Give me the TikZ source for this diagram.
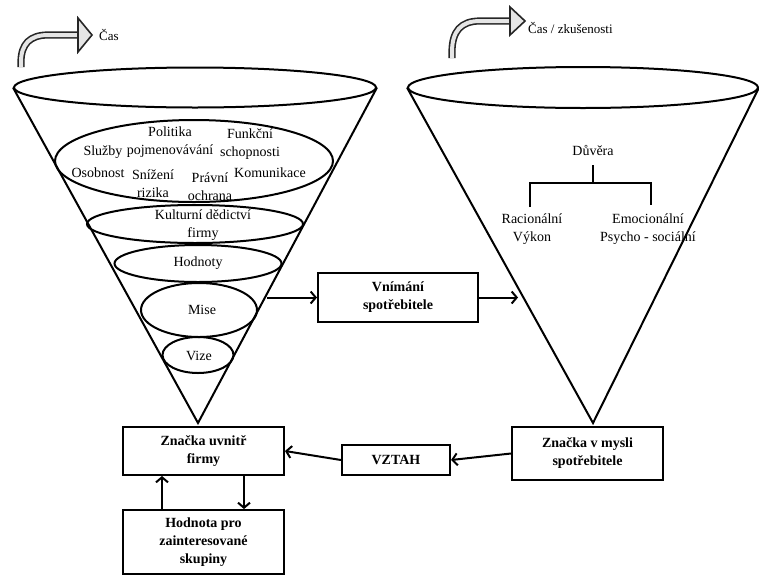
\documentclass[tikz,border=0pt]{standalone}
\usepackage{fontspec}
\setmainfont{Liberation Serif}
\usetikzlibrary{shapes.geometric,arrows.meta,calc}

\tikzset{
  txt/.style={font=\fontsize{14}{18}\selectfont, align=center, inner sep=0pt},
  lbl/.style={font=\fontsize{13}{16}\selectfont, inner sep=0pt, anchor=west},
  layer/.style={ellipse, draw, line width=2pt, inner sep=0pt, font=\fontsize{14}{18}\selectfont},
  cone/.style={line width=2pt, line join=miter},
  box/.style={draw, line width=2pt, align=center, inner sep=0pt,
              font=\bfseries\fontsize{14}{18}\selectfont},
  link/.style={line width=2pt, -{Straight Barb[length=5pt,width=12pt,line width=2pt]}},
  tree/.style={line width=2.2pt},
  bentshaft/.style={line width=1.6pt, draw=black!85, double=gray!20, double distance=4pt},
  benthead/.style={line width=1.6pt, draw=black!85, fill=gray!20, line join=miter},
}

\begin{document}
\begin{tikzpicture}[x=1pt, y=-1pt]
\useasboundingbox (0,0) rectangle (759,576);

% --- time arrows ---
\draw[bentshaft] (21,67) -- (21,62) .. controls (21,44) and (30,35) .. (48,35) -- (80,35);
\filldraw[benthead] (78,18) -- (92,35) -- (78,52) -- cycle;
\node[lbl] (cas) at (99,35) {Čas};

\draw[bentshaft] (452,58) -- (452,52) .. controls (452,31) and (461,21) .. (480,21) -- (512,21);
\filldraw[benthead] (510,7) -- (525,21) -- (510,35) -- cycle;
\node[lbl] (caszk) at (528,28) {Čas / zkušenosti};

% --- left funnel: brand inside the firm ---
\node[layer, minimum width=362pt, minimum height=40pt] (ltop) at (195,87.5) {};
\coordinate (lapex) at (198,423);
\draw[cone] (ltop.west) -- (lapex) -- (ltop.east);

\node[layer, minimum width=278pt, minimum height=82pt] (big) at (194,161) {};
\node[txt] (politika) at (170,142) {Politika\\pojmenovávání};
\node[txt] (sluzby) at (103,152) {Služby};
\node[txt] (funkcni) at (250,144) {Funkční\\schopnosti};
\node[txt] (osobnost) at (98,173) {Osobnost};
\node[txt] (snizeni) at (153,184) {Snížení\\rizika};
\node[txt] (pravni) at (210,187) {Právní\\ochrana};
\node[txt] (komunikace) at (270,173) {Komunikace};

\node[layer, minimum width=216pt, minimum height=38pt] (kultura) at (195,224) {};
\node[txt] at (203,225) {Kulturní dědictví\\firmy};
\node[layer, minimum width=167pt, minimum height=37pt] (hodnoty) at (198,263.5) {Hodnoty};
\node[layer, minimum width=116pt, minimum height=54pt] (mise) at (199,310) {};
\node[txt] at (202,310) {Mise};
\node[layer, minimum width=71pt, minimum height=36pt] (vize) at (198,355) {};
\node[txt] at (199,356) {Vize};

% --- right funnel: brand in consumer's mind ---
\node[layer, minimum width=350pt, minimum height=41pt] (rtop) at (583,87.5) {};
\coordinate (rapex) at (593,423);
\draw[cone] (rtop.west) -- (rapex) -- (rtop.east);

\node[txt] (duvera) at (593,150) {Důvěra};
\coordinate (troot) at (593,165);
\coordinate (tjoin) at (593,183);
\coordinate (tl) at (530,183);
\coordinate (tr) at (651,183);
\draw[tree] (troot) -- (tjoin);
\draw[tree] (530,207) -- (tl) -- (tr) -- (651,205);
\node[txt] (racio) at (532,229) {Racionální\\Výkon};
\node[txt] (emoc) at (648,229) {Emocionální\\Psycho - sociální};

% --- boxes ---
\node[box, minimum width=160pt, minimum height=49pt] (vnimani) at (398,297.5) {Vnímání\\spotřebitele};
\node[box, minimum width=161pt, minimum height=48pt] (uvnitr) at (203.5,451) {Značka uvnitř\\firmy};
\node[box, minimum width=161pt, minimum height=64pt] (hodnota) at (203.5,542) {Hodnota pro\\zainteresované\\skupiny};
\node[box, minimum width=108pt, minimum height=30pt] (vztah) at (396,460) {VZTAH};
\node[box, minimum width=151pt, minimum height=53pt] (mysl) at (587.5,453.5) {Značka v mysli\\spotřebitele};

% --- connectors ---
\coordinate (lout) at (267,297.5);
\coordinate (rin) at (518,297.5);
\draw[link] (lout) -- (vnimani.west);
\draw[link] (vnimani.east) -- (rin);
\draw[link] (mysl.west) -- (vztah.east);
\draw[link] (vztah.west) -- (uvnitr.east);
\draw[link] (hodnota.north -| 162,0) -- (uvnitr.south -| 162,0);
\draw[link] (uvnitr.south -| 244,0) -- (hodnota.north -| 244,0);
\end{tikzpicture}
\end{document}
